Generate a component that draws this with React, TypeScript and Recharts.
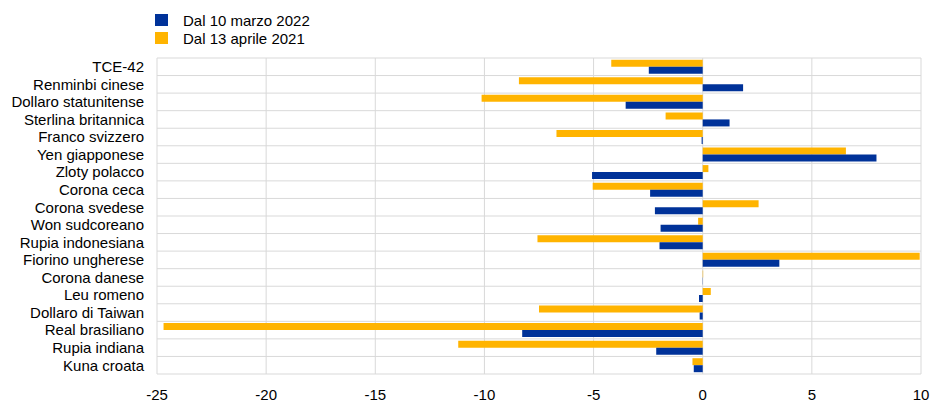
import React from 'react';
import { BarChart, Bar, XAxis, YAxis, CartesianGrid } from 'recharts';

const categories = [
  'TCE-42',
  'Renminbi cinese',
  'Dollaro statunitense',
  'Sterlina britannica',
  'Franco svizzero',
  'Yen giapponese',
  'Zloty polacco',
  'Corona ceca',
  'Corona svedese',
  'Won sudcoreano',
  'Rupia indonesiana',
  'Fiorino ungherese',
  'Corona danese',
  'Leu romeno',
  'Dollaro di Taiwan',
  'Real brasiliano',
  'Rupia indiana',
  'Kuna croata',
];

// Dal 10 marzo 2022
const since2022 = [-2.47, 1.85, -3.53, 1.23, -0.05, 7.96, -5.07, -2.41, -2.19, -1.93, -1.98, 3.51, 0.01, -0.17, -0.14, -8.27, -2.13, -0.41];
// Dal 13 aprile 2021
const since2021 = [-4.19, -8.42, -10.13, -1.7, -6.7, 6.56, 0.26, -5.04, 2.56, -0.21, -7.57, 9.94, 0.02, 0.37, -7.5, -24.7, -11.2, -0.47];

const xTicks = [-25, -20, -15, -10, -5, 0, 5, 10];

const series = [
  { key: 's2022', name: 'Dal 10 marzo 2022', color: '#003299' },
  { key: 's2021', name: 'Dal 13 aprile 2021', color: '#FFB400' },
];

const data = categories.map((name, i) => ({
  name,
  s2022: since2022[i],
  s2021: since2021[i],
}));

const FONT = '"Liberation Sans", Arial, sans-serif';

export default function App() {
  // absolute so the page doesn't get a scrollbar (body margin + chart = 403)
  return (
    <div style={{ position: 'absolute', left: 8, top: 8, width: 925, height: 395, fontFamily: FONT }}>
      <div style={{ position: 'absolute', left: 147, top: 3 }}>
        {series.map((s) => (
          <div key={s.key} style={{ display: 'flex', alignItems: 'center', height: 18, fontSize: 15, color: '#000' }}>
            <span style={{ display: 'inline-block', width: 13, height: 12, background: s.color, marginRight: 15 }} />
            <span>{s.name}</span>
          </div>
        ))}
      </div>
      <BarChart
        width={925}
        height={395}
        data={data}
        layout="vertical"
        margin={{ top: 50, right: 12, left: 0, bottom: 0 }}
        barCategoryGap="10%"
        barGap={0}
      >
        <CartesianGrid
          stroke="#d9d9d9"
          horizontalCoordinatesGenerator={({ offset }: any) =>
            categories.map((_, i) => offset.top + (i * offset.height) / categories.length).concat(offset.top + offset.height)
          }
        />
        <XAxis
          type="number"
          domain={[-25, 10]}
          ticks={xTicks}
          axisLine={false}
          tickLine={false}
          tickSize={6}
          tickMargin={9}
          height={29}
          tick={{ fontSize: 15, fill: '#000', fontFamily: FONT }}
        />
        <YAxis
          type="category"
          dataKey="name"
          width={149}
          axisLine={false}
          tickLine={false}
          tickSize={6}
          tickMargin={7}
          interval={0}
          tick={{ fontSize: 15, fill: '#000', fontFamily: FONT }}
        />
        <Bar dataKey="s2021" name="Dal 13 aprile 2021" fill="#FFB400" isAnimationActive={false} />
        <Bar dataKey="s2022" name="Dal 10 marzo 2022" fill="#003299" isAnimationActive={false} />
      </BarChart>
    </div>
  );
}
